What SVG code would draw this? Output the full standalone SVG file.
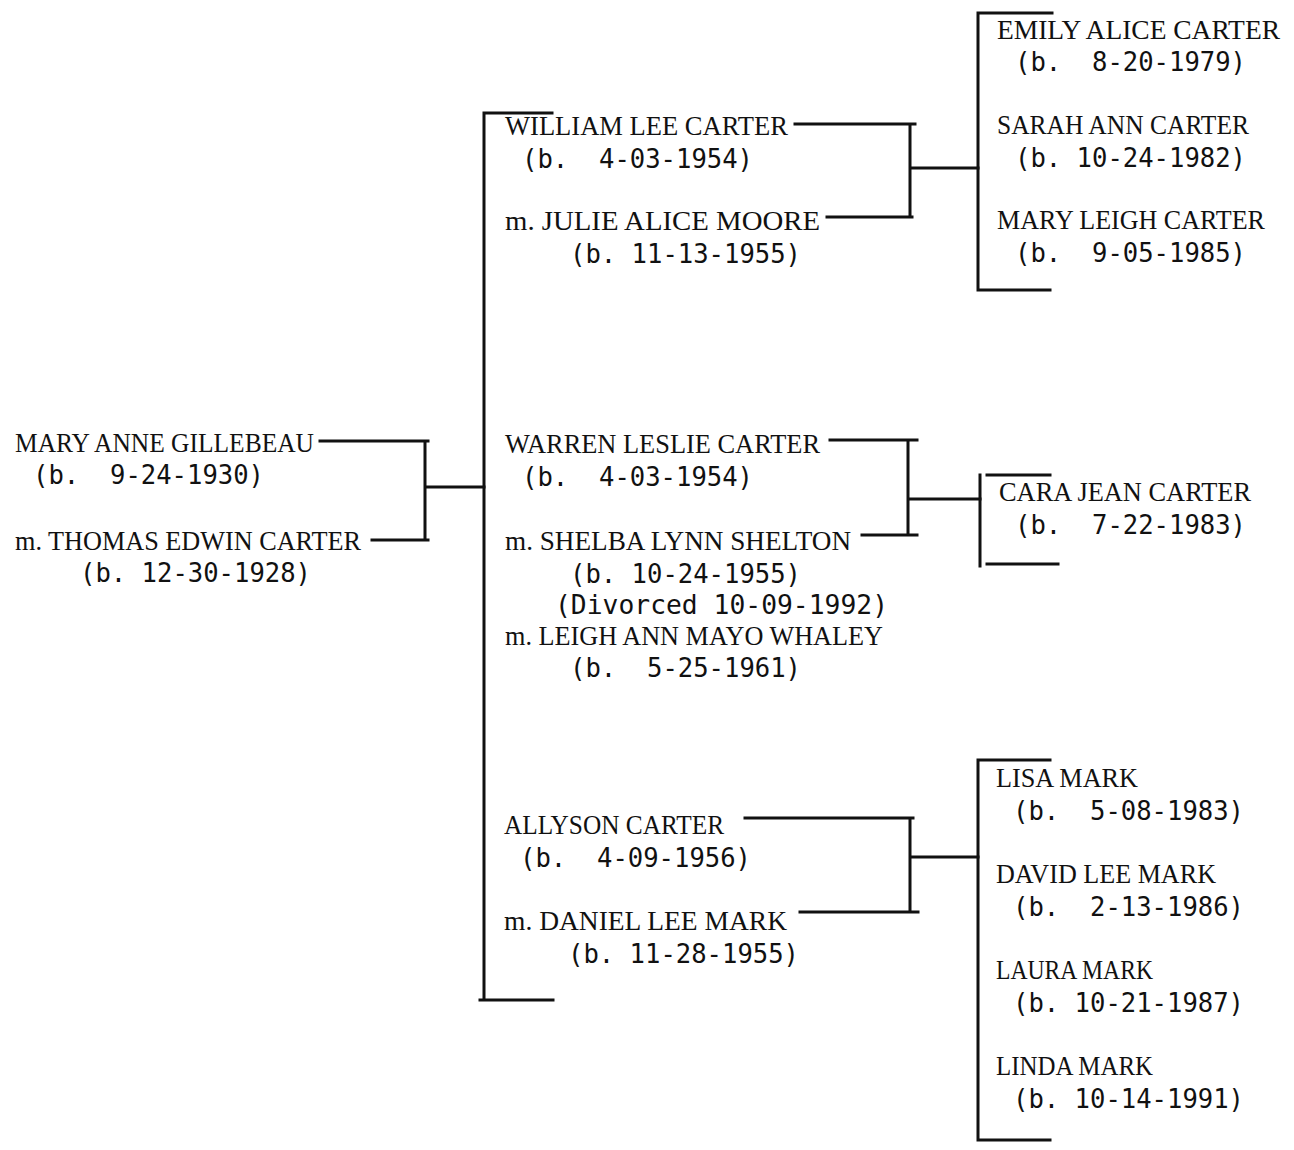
<svg xmlns="http://www.w3.org/2000/svg" width="1294" height="1150" viewBox="0 0 1294 1150">
<style>
text { white-space: pre; fill: #111; }
.n { font-family: "Liberation Serif", "Times New Roman", serif; font-size: 28px; }
.d { font-family: "DejaVu Sans Mono", "Liberation Mono", monospace; font-size: 27px; }
.ln { fill: none; stroke: #111; stroke-width: 3; stroke-linecap: square; }
</style>
<rect width="1294" height="1150" fill="#fff"/>
<g id="connectors" class="ln">
  <path d="M320 441 H428 M372 540 H428 M425 441 V540 M425 487 H484"/>
  <path d="M552 113 H484 V1000 M480 1000 H553"/>
  <path d="M795 124 H915 M827 217 H912 M910 124 V217 M910 168 H978"/>
  <path d="M1052 13 H978 V290 H1050"/>
  <path d="M830 440 H917 M862 535 H917 M908 440 V535 M908 499 H980"/>
  <path d="M980 475 V566 M987 475 H1050 M987 564 H1058"/>
  <path d="M745 818 H913 M800 912 H918 M910 818 V912 M910 857 H978"/>
  <path d="M1050 760 H978 V1140 H1050"/>
</g>
<g id="mary-anne-gillebeau">
  <text class="n" x="15" y="452" textLength="299" lengthAdjust="spacingAndGlyphs">MARY ANNE GILLEBEAU</text>
  <text class="d" x="33" y="484" textLength="231" lengthAdjust="spacingAndGlyphs">(b.  9-24-1930)</text>
</g>
<g id="thomas-edwin-carter">
  <text class="n" x="15" y="550" textLength="346" lengthAdjust="spacingAndGlyphs">m. THOMAS EDWIN CARTER</text>
  <text class="d" x="80" y="582" textLength="231" lengthAdjust="spacingAndGlyphs">(b. 12-30-1928)</text>
</g>
<g id="william-lee-carter">
  <text class="n" x="505" y="135" textLength="283" lengthAdjust="spacingAndGlyphs">WILLIAM LEE CARTER</text>
  <text class="d" x="522" y="168" textLength="231" lengthAdjust="spacingAndGlyphs">(b.  4-03-1954)</text>
</g>
<g id="julie-alice-moore">
  <text class="n" x="505" y="230" textLength="315" lengthAdjust="spacingAndGlyphs">m. JULIE ALICE MOORE</text>
  <text class="d" x="570" y="263" textLength="231" lengthAdjust="spacingAndGlyphs">(b. 11-13-1955)</text>
</g>
<g id="warren-leslie-carter">
  <text class="n" x="505" y="453" textLength="315" lengthAdjust="spacingAndGlyphs">WARREN LESLIE CARTER</text>
  <text class="d" x="522" y="486" textLength="231" lengthAdjust="spacingAndGlyphs">(b.  4-03-1954)</text>
</g>
<g id="shelba-lynn-shelton">
  <text class="n" x="505" y="550" textLength="346" lengthAdjust="spacingAndGlyphs">m. SHELBA LYNN SHELTON</text>
  <text class="d" x="570" y="583" textLength="231" lengthAdjust="spacingAndGlyphs">(b. 10-24-1955)</text>
  <text class="d" x="555" y="614" textLength="333" lengthAdjust="spacingAndGlyphs">(Divorced 10-09-1992)</text>
</g>
<g id="leigh-ann-mayo-whaley">
  <text class="n" x="505" y="645" textLength="378" lengthAdjust="spacingAndGlyphs">m. LEIGH ANN MAYO WHALEY</text>
  <text class="d" x="570" y="677" textLength="231" lengthAdjust="spacingAndGlyphs">(b.  5-25-1961)</text>
</g>
<g id="allyson-carter">
  <text class="n" x="504" y="834" textLength="220" lengthAdjust="spacingAndGlyphs">ALLYSON CARTER</text>
  <text class="d" x="520" y="867" textLength="231" lengthAdjust="spacingAndGlyphs">(b.  4-09-1956)</text>
</g>
<g id="daniel-lee-mark">
  <text class="n" x="504" y="930" textLength="283" lengthAdjust="spacingAndGlyphs">m. DANIEL LEE MARK</text>
  <text class="d" x="568" y="963" textLength="231" lengthAdjust="spacingAndGlyphs">(b. 11-28-1955)</text>
</g>
<g id="emily-alice-carter">
  <text class="n" x="997" y="39" textLength="283" lengthAdjust="spacingAndGlyphs">EMILY ALICE CARTER</text>
  <text class="d" x="1015" y="71" textLength="231" lengthAdjust="spacingAndGlyphs">(b.  8-20-1979)</text>
</g>
<g id="sarah-ann-carter">
  <text class="n" x="997" y="134" textLength="252" lengthAdjust="spacingAndGlyphs">SARAH ANN CARTER</text>
  <text class="d" x="1015" y="167" textLength="231" lengthAdjust="spacingAndGlyphs">(b. 10-24-1982)</text>
</g>
<g id="mary-leigh-carter">
  <text class="n" x="997" y="229" textLength="268" lengthAdjust="spacingAndGlyphs">MARY LEIGH CARTER</text>
  <text class="d" x="1015" y="262" textLength="231" lengthAdjust="spacingAndGlyphs">(b.  9-05-1985)</text>
</g>
<g id="cara-jean-carter">
  <text class="n" x="999" y="501" textLength="252" lengthAdjust="spacingAndGlyphs">CARA JEAN CARTER</text>
  <text class="d" x="1015" y="534" textLength="231" lengthAdjust="spacingAndGlyphs">(b.  7-22-1983)</text>
</g>
<g id="lisa-mark">
  <text class="n" x="996" y="787" textLength="142" lengthAdjust="spacingAndGlyphs">LISA MARK</text>
  <text class="d" x="1013" y="820" textLength="231" lengthAdjust="spacingAndGlyphs">(b.  5-08-1983)</text>
</g>
<g id="david-lee-mark">
  <text class="n" x="996" y="883" textLength="220" lengthAdjust="spacingAndGlyphs">DAVID LEE MARK</text>
  <text class="d" x="1013" y="916" textLength="231" lengthAdjust="spacingAndGlyphs">(b.  2-13-1986)</text>
</g>
<g id="laura-mark">
  <text class="n" x="996" y="979" textLength="157" lengthAdjust="spacingAndGlyphs">LAURA MARK</text>
  <text class="d" x="1013" y="1012" textLength="231" lengthAdjust="spacingAndGlyphs">(b. 10-21-1987)</text>
</g>
<g id="linda-mark">
  <text class="n" x="996" y="1075" textLength="157" lengthAdjust="spacingAndGlyphs">LINDA MARK</text>
  <text class="d" x="1013" y="1108" textLength="231" lengthAdjust="spacingAndGlyphs">(b. 10-14-1991)</text>
</g>
</svg>
